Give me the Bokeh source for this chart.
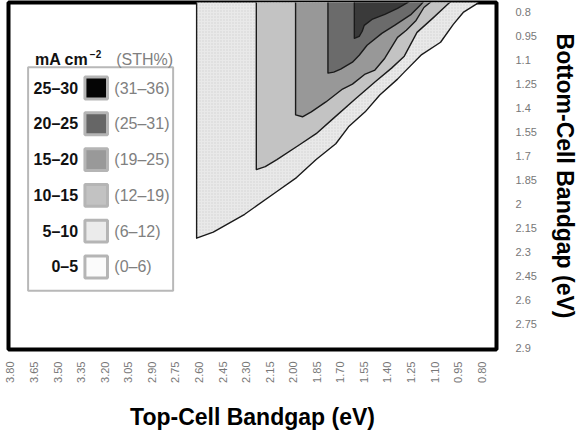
import math
from bokeh.plotting import figure
from bokeh.models import Range1d, FixedTicker, PrintfTickFormatter, CustomJSTickFormatter
from bokeh.embed import file_html
from bokeh.resources import INLINE
from bokeh.core.properties import value

# ---------------- data ----------------
X_TICKS = [3.80, 3.65, 3.50, 3.35, 3.20, 3.05, 2.90, 2.75, 2.60, 2.45, 2.30,
           2.15, 2.00, 1.85, 1.70, 1.55, 1.40, 1.25, 1.10, 0.95, 0.80]
Y_TICKS = [0.8, 0.95, 1.1, 1.25, 1.4, 1.55, 1.7, 1.85, 2.0, 2.15, 2.3, 2.45,
           2.6, 2.75, 2.9]
Y_TICK_LABELS = ["0.8", "0.95", "1.1", "1.25", "1.4", "1.55", "1.7", "1.85",
                 "2", "2.15", "2.3", "2.45", "2.6", "2.75", "2.9"]

LEVELS_MA = ["25–30", "20–25", "15–20", "10–15", "5–10", "0–5"]
LEVELS_STH = ["(31–36)", "(25–31)", "(19–25)", "(12–19)", "(6–12)", "(0–6)"]

# contour boundaries: (top-cell Eg, bottom-cell Eg), starting at the corner
C5_TOP = [2.615, 2.509, 2.309, 2.104, 1.979, 1.854, 1.729, 1.648, 1.542, 1.449,
          1.336, 1.293, 1.187, 1.062, 0.981, 0.918, 0.837, 0.775]
C5_BOT = [2.215, 2.177, 2.065, 1.922, 1.835, 1.722, 1.623, 1.517, 1.423, 1.317,
          1.218, 1.174, 1.068, 0.987, 0.875, 0.800, 0.750, 0.694]
C10_TOP = [2.235, 2.178, 2.104, 1.960, 1.854, 1.748, 1.605, 1.480, 1.374, 1.293,
           1.212, 1.106, 1.025, 0.956]
C10_BOT = [1.785, 1.766, 1.722, 1.629, 1.560, 1.467, 1.342, 1.236, 1.149, 1.074,
           0.925, 0.831, 0.756, 0.694]
C15_TOP = [1.985, 1.941, 1.885, 1.792, 1.686, 1.623, 1.542, 1.480, 1.417, 1.336,
           1.280, 1.218, 1.168, 1.106, 1.068]
C15_BOT = [1.442, 1.454, 1.423, 1.361, 1.280, 1.249, 1.186, 1.161, 1.087, 0.956,
           0.912, 0.850, 0.769, 0.719, 0.694]
C20_TOP = [1.779, 1.742, 1.698, 1.623, 1.580, 1.530, 1.436, 1.355, 1.249, 1.187, 1.137]
C20_BOT = [1.180, 1.174, 1.155, 1.112, 1.068, 1.006, 0.931, 0.881, 0.812, 0.750, 0.694]
C25_TOP = [1.611, 1.580, 1.561, 1.548, 1.499, 1.417, 1.336, 1.249, 1.199]
C25_BOT = [0.962, 0.950, 0.918, 0.881, 0.844, 0.812, 0.775, 0.725, 0.694]

# ---------------- styles ----------------
FILL = {5: "#e9e9e9", 10: "#c3c3c3", 15: "#989898", 20: "#6b6b6b", 25: "#3a3a3a"}
SWATCH = ["#050505", "#666666", "#999999", "#c2c2c2", "#ebebeb", "#fbfbfb"]
FONT = value("Liberation Sans")

XR = (3.8125, 0.706)
YR_TOP, YR_BOT = 0.7377, 2.9125

p = figure(width=580, height=432, output_backend="svg", toolbar_location=None,
           x_range=Range1d(XR[0], XR[1]), y_range=Range1d(YR_BOT, YR_TOP),
           x_axis_location="below", y_axis_location="right",
           min_border_left=8, min_border_top=2, min_border_right=74,
           min_border_bottom=81)
p.grid.visible = False
p.outline_line_color = "black"
p.outline_line_width = 4
p.background_fill_color = "white"
p.border_fill_color = "white"

# page-pixel helpers for the legend (frame at x 16..514, y 10..359 on the page)
FL, FR, FT, FB = 16, 514, 10, 359
def dx(px):
    return XR[0] + (px - FL) / (FR - FL) * (XR[1] - XR[0])
def dy(py):
    return YR_TOP + (py - FT) / (FB - FT) * (YR_BOT - YR_TOP)

TOP_OUT = 0.6
for lvl, tops, bots in [(5, C5_TOP, C5_BOT), (10, C10_TOP, C10_BOT),
                        (15, C15_TOP, C15_BOT), (20, C20_TOP, C20_BOT),
                        (25, C25_TOP, C25_BOT)]:
    xs = [tops[0]] + tops + [tops[-1]]
    ys = [TOP_OUT] + bots + [TOP_OUT]
    kw = {}
    if lvl == 5:
        kw = dict(hatch_pattern="dot", hatch_color="#d2d2d2", hatch_scale=3,
                  hatch_weight=1)
    p.patch(xs, ys, fill_color=FILL[lvl], line_color="#1a1a1a", line_width=1.4,
            line_join="round", **kw)

# axes
xa = p.xaxis[0]
xa.ticker = FixedTicker(ticks=X_TICKS)
xa.formatter = PrintfTickFormatter(format="%.2f")
xa.major_label_orientation = math.pi / 2
ya = p.yaxis[0]
ya.ticker = FixedTicker(ticks=Y_TICKS)
ya.formatter = CustomJSTickFormatter(args=dict(tvals=Y_TICKS, tlabels=Y_TICK_LABELS), code="""
    for (let i = 0; i < tvals.length; i++) { if (Math.abs(tvals[i] - tick) < 1e-6) return tlabels[i]; }
    return '';
""")
for ax in (xa, ya):
    ax.axis_line_color = None
    ax.major_tick_line_color = None
    ax.minor_tick_line_color = None
    ax.major_label_text_font = "Liberation Sans"
    ax.major_label_text_font_size = "11px"
    ax.major_label_text_color = "#777777"
    ax.axis_label_text_font = "Liberation Sans"
    ax.axis_label_text_font_style = "bold"
    ax.axis_label_text_font_size = "23px"
    ax.axis_label_text_color = "black"
xa.axis_label = "Top-Cell Bandgap (eV)"
xa.major_label_standoff = 6
xa.axis_label_standoff = 18
ya.axis_label = "Bottom-Cell Bandgap (eV)"
ya.major_label_standoff = 13
ya.axis_label_standoff = 12

# legend
p.quad(left=dx(36), right=dx(184), top=dy(75), bottom=dy(300),
       fill_color="white", line_color="#b8b8b8", line_width=2)
rows = [96 + 36 * i for i in range(len(LEVELS_MA))]
p.quad(left=[dx(94)] * len(rows), right=[dx(117)] * len(rows),
       top=[dy(r - 11) for r in rows], bottom=[dy(r + 11) for r in rows],
       fill_color=SWATCH, line_color="#b5b5b5", line_width=3)
p.text(x=[dx(87)] * len(rows), y=[dy(r) for r in rows], text=LEVELS_MA,
       text_align="right", text_baseline="middle", text_font=FONT,
       text_font_style="bold", text_font_size="16px", text_color="#111111")
p.text(x=[dx(124)] * len(rows), y=[dy(r) for r in rows], text=LEVELS_STH,
       text_align="left", text_baseline="middle", text_font=FONT,
       text_font_size="16px", text_color="#808080")
p.text(x=[dx(43)], y=[dy(67)], text=["mA cm"], text_align="left",
       text_baseline="middle", text_font=FONT, text_font_style="bold",
       text_font_size="16px", text_color="#111111")
p.text(x=[dx(99)], y=[dy(62)], text=["−2"], text_align="left",
       text_baseline="middle", text_font=FONT, text_font_style="bold",
       text_font_size="10px", text_color="#111111")
p.text(x=[dx(126)], y=[dy(67)], text=["(STH%)"], text_align="left",
       text_baseline="middle", text_font=FONT, text_font_size="16px",
       text_color="#808080")

open("out.html", "w").write(file_html(p, INLINE))
